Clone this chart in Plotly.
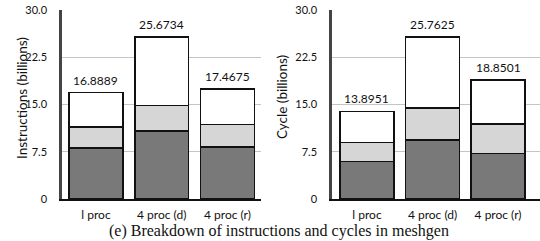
import plotly.graph_objects as go

categories = ["l proc", "4 proc (d)", "4 proc (r)"]
instr_dark = [8.1, 10.76, 8.28]
instr_light = [3.35, 4.11, 3.52]
instr_total = [16.8889, 25.6734, 17.4675]
cycle_dark = [5.98, 9.37, 7.25]
cycle_light = [3.02, 5.07, 4.61]
cycle_total = [13.8951, 25.7625, 18.8501]
y_ticks = [0, 7.5, 15.0, 22.5, 30.0]
y_ticktext = ["0", "7.5", "15.0", "22.5", "30.0"]

xs = list(range(len(categories)))
fig = go.Figure()
FONT = "Lato"

def add_stack(dark, light, total, xa, ya):
    top = [t - d - l for t, d, l in zip(total, dark, light)]
    for vals, col in [(dark, "#797979"), (light, "#d6d6d6"), (top, "#ffffff")]:
        fig.add_trace(go.Bar(x=xs, y=vals, width=0.82, marker=dict(color=col, line=dict(color="#111", width=1.6)),
                             xaxis=xa, yaxis=ya, showlegend=False, hoverinfo="skip"))
    for x, t in zip(xs, total):
        fig.add_annotation(x=x, y=t, xref=xa, yref=ya, text=f"{t:.4f}", showarrow=False,
                           yanchor="bottom", yshift=3, font=dict(family=FONT, size=12, color="#111"))

add_stack(instr_dark, instr_light, instr_total, "x", "y")
add_stack(cycle_dark, cycle_light, cycle_total, "x2", "y2")

ydom = [(241 - 199) / 241, (241 - 10) / 241]
common_y = dict(range=[0, 30], tickvals=y_ticks, ticktext=y_ticktext, showgrid=True, gridcolor="#c4c4c4",
                gridwidth=1, zeroline=False, showline=True, linecolor="#444", linewidth=2.5,
                ticks="outside", ticklen=10, tickcolor="rgba(0,0,0,0)", automargin=False,
                tickfont=dict(family=FONT, size=11, color="#111"), domain=ydom)
common_x = dict(tickvals=xs, ticktext=categories, showline=True, linecolor="#111", linewidth=2,
                showgrid=False, zeroline=False, ticks="outside", ticklen=4, tickcolor="rgba(0,0,0,0)",
                automargin=False, tickfont=dict(family=FONT, size=12, color="#111"))

fig.update_layout(
    template="none",
    width=540, height=241, margin=dict(l=0, r=0, t=0, b=0, autoexpand=False),
    paper_bgcolor="white", plot_bgcolor="white", barmode="stack",
    xaxis=dict(**common_x, domain=[62 / 540, 261 / 540], range=[-0.517, 2.51]),
    yaxis=dict(**common_y, anchor="x"),
    xaxis2=dict(**common_x, domain=[332 / 540, 1.0], range=[-0.534, 2.64]),
    yaxis2=dict(**common_y, anchor="x2"),
)

fig.add_annotation(x=12 / 540, y=(241 - 98) / 241, xref="paper", yref="paper", text="Instructions (billions)",
                   textangle=-90, showarrow=False, font=dict(family=FONT, size=13.5, color="#111"))
fig.add_annotation(x=282 / 540, y=(241 - 97) / 241, xref="paper", yref="paper", text="Cycle (billions)",
                   textangle=-90, showarrow=False, font=dict(family=FONT, size=13.5, color="#111"))
fig.add_annotation(x=279 / 540, y=0, xref="paper", yref="paper", yanchor="bottom", yshift=-1,
                   text="(e) Breakdown of instructions and cycles in meshgen",
                   showarrow=False, font=dict(family="Liberation Serif", size=16, color="#111"))

fig.write_html("out.html", config={"displayModeBar": False},
               post_script="document.body.style.margin='0';")
